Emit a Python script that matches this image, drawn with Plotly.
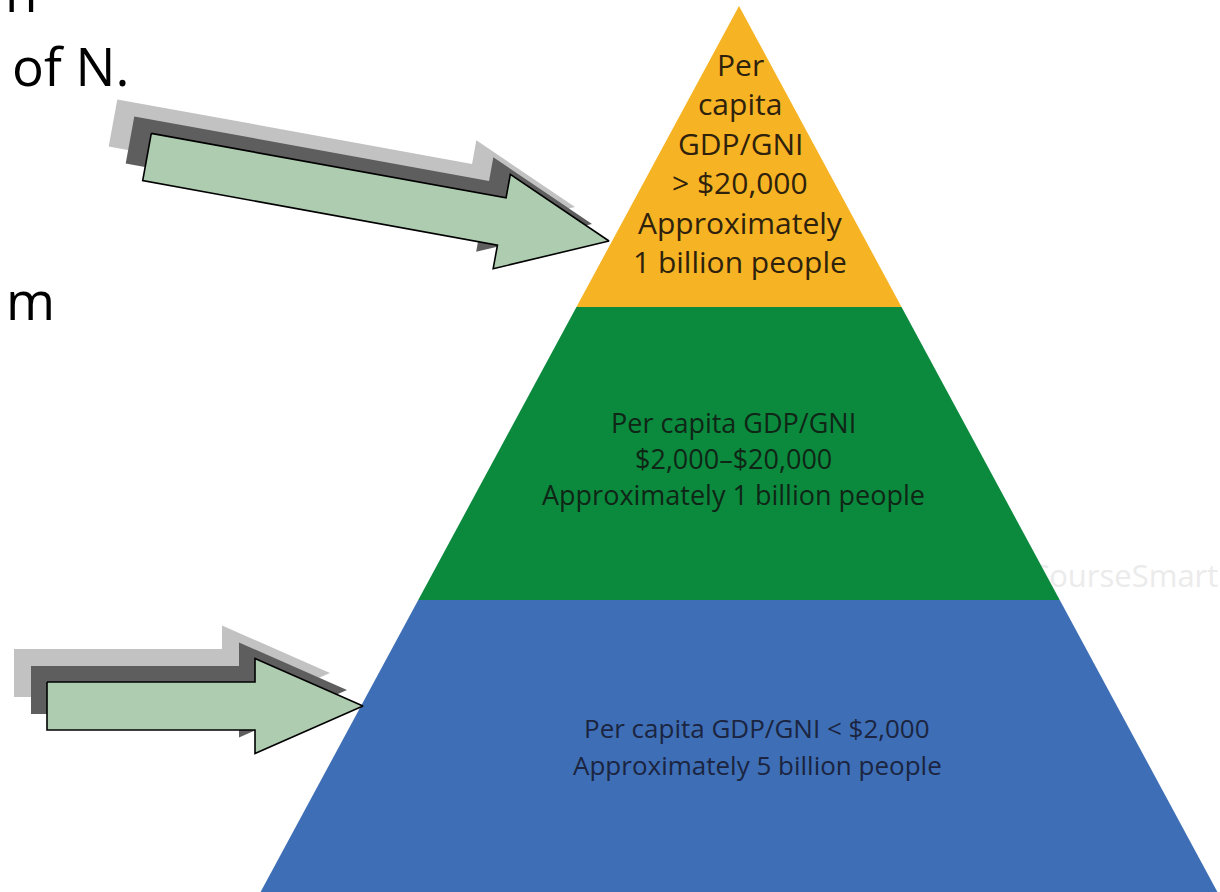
import math
import plotly.graph_objects as go

# ---------------- data ----------------
tier_names = ["High income", "Middle income", "Low income"]
tier_population_billion = [1, 1, 5]
tier_label_lines = [
    ["Per", "capita", "GDP/GNI", "> $20,000", "Approximately", "1 billion people"],
    ["Per capita GDP/GNI", "$2,000–$20,000", "Approximately 1 billion people"],
    ["Per capita GDP/GNI < $2,000", "Approximately 5 billion people"],
]
tier_colors = ["#F6B324", "#0B8A3E", "#3E6FB6"]
tier_text_colors = ["#2e220c", "#0f2616", "#1b2440"]
side_text = ["n", "of N.", "m"]
watermark = "CourseSmart"

# ---------------- geometry (layout only) ----------------
W, H = 1220, 892
apex_x, apex_y = 739, 6
base_y = 892
slope = 0.54                      # half-width growth per pixel of height
tier_bounds = [apex_y, 307, 600, base_y]
label_x = [740, 733, 757]
label_first_y = [64, 422, 728]
label_step = [39.5, 36, 37]
label_size = [30, 27, 26]


def half_width(y):
    return slope * (y - apex_y)


fig = go.Figure()

# faint watermark, mostly hidden behind the pyramid
fig.add_trace(go.Scatter(
    x=[1124], y=[579], mode="text", text=[watermark],
    textfont=dict(family="Open Sans", size=31, color="#ebebeb"),
    hoverinfo="skip", showlegend=False))

# pyramid tiers
for i, name in enumerate(tier_names):
    y0, y1 = tier_bounds[i], tier_bounds[i + 1]
    xs = [apex_x - half_width(y0), apex_x + half_width(y0),
          apex_x + half_width(y1), apex_x - half_width(y1), apex_x - half_width(y0)]
    ys = [y0, y0, y1, y1, y0]
    fig.add_trace(go.Scatter(
        x=xs, y=ys, mode="lines", fill="toself", fillcolor=tier_colors[i],
        line=dict(width=0, color=tier_colors[i]), name=name,
        hoverinfo="skip", showlegend=False))
    for j, line in enumerate(tier_label_lines[i]):
        fig.add_annotation(
            x=label_x[i], y=label_first_y[i] + j * label_step[i], xref="x", yref="y",
            text=line, showarrow=False, xanchor="center", yanchor="middle",
            borderpad=0,
            font=dict(family="Open Sans", size=label_size[i], color=tier_text_colors[i]))


# block arrows with stacked offset shadows
def arrow_points(tail, tip, sw, hw, hl):
    dx, dy = tip[0] - tail[0], tip[1] - tail[1]
    L = math.hypot(dx, dy)
    ux, uy = dx / L, dy / L
    nx, ny = -uy, ux
    local = [(0, -sw), (L - hl, -sw), (L - hl, -hw), (L, 0),
             (L - hl, hw), (L - hl, sw), (0, sw), (0, -sw)]
    xs = [tail[0] + a * ux + b * nx for a, b in local]
    ys = [tail[1] + a * uy + b * ny for a, b in local]
    return xs, ys


arrows = [
    dict(tail=(147, 157), tip=(609, 241), sw=24, hw=48, hl=109,
         shadows=[(-34, -34), (-17, -17)]),
    dict(tail=(47, 706), tip=(363, 706), sw=24, hw=47.5, hl=108,
         shadows=[(-33, -33), (-16, -16)]),
]
shadow_colors = ["#C2C2C2", "#5E5E5E"]

for a in arrows:
    xs, ys = arrow_points(a["tail"], a["tip"], a["sw"], a["hw"], a["hl"])
    for (ox, oy), c in zip(a["shadows"], shadow_colors):
        fig.add_trace(go.Scatter(
            x=[v + ox for v in xs], y=[v + oy for v in ys], mode="lines",
            fill="toself", fillcolor=c, line=dict(width=0, color=c),
            hoverinfo="skip", showlegend=False))
    fig.add_trace(go.Scatter(
        x=xs, y=ys, mode="lines", fill="toself", fillcolor="#AECCB0",
        line=dict(width=1.6, color="#000000"),
        hoverinfo="skip", showlegend=False))

# cut-off slide text on the left (paper coordinates so it may run off the page)
side_pos = [(3, -8), (10, 66), (4, 299)]
for t, (x, y) in zip(side_text, side_pos):
    fig.add_annotation(
        x=x / W, y=1 - y / H, xref="paper", yref="paper", text=t, showarrow=False,
        xanchor="left", yanchor="middle",
        font=dict(family="Open Sans", size=53, color="#000000"))

fig.update_layout(
    width=W, height=H, autosize=False,
    margin=dict(l=0, r=0, t=0, b=0),
    paper_bgcolor="white", plot_bgcolor="white",
    xaxis=dict(range=[0, W], visible=False, fixedrange=True),
    yaxis=dict(range=[H, 0], visible=False, fixedrange=True),
    showlegend=False,
)

fig.write_html("out.html")
